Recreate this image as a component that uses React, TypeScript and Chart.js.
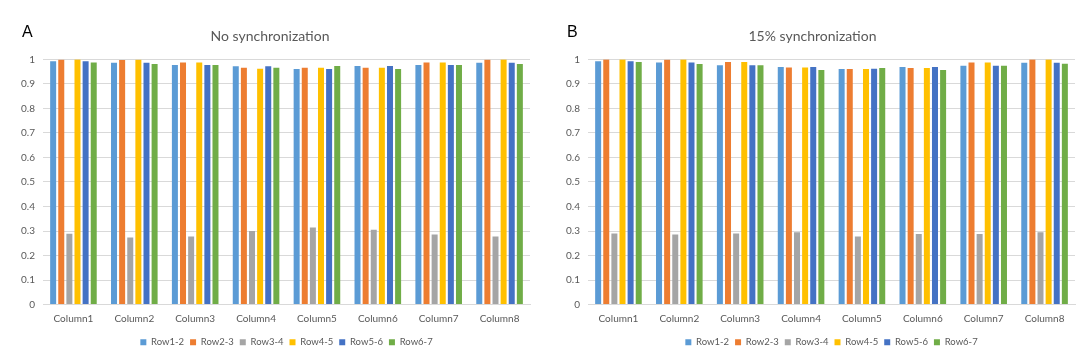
import React, { useEffect, useRef } from 'react';
import { Chart, registerables } from 'chart.js';

Chart.register(...registerables);

const categories = ['Column1', 'Column2', 'Column3', 'Column4', 'Column5', 'Column6', 'Column7', 'Column8'];
const seriesNames = ['Row1-2', 'Row2-3', 'Row3-4', 'Row4-5', 'Row5-6', 'Row6-7'];
const seriesColors = ['#5B9BD5', '#ED7D31', '#A5A5A5', '#FFC000', '#4472C4', '#70AD47'];
const yTicks = [0, 0.1, 0.2, 0.3, 0.4, 0.5, 0.6, 0.7, 0.8, 0.9, 1];
const yTickLabels = ['0', '0.1', '0.2', '0.3', '0.4', '0.5', '0.6', '0.7', '0.8', '0.9', '1'];

// Panel A: No synchronization
const noSyncRow12 = [0.992, 0.986, 0.977, 0.972, 0.96, 0.973, 0.977, 0.986];
const noSyncRow23 = [0.998, 0.997, 0.987, 0.966, 0.966, 0.966, 0.987, 0.998];
const noSyncRow34 = [0.289, 0.274, 0.278, 0.3, 0.314, 0.305, 0.286, 0.278];
const noSyncRow45 = [0.999, 0.998, 0.987, 0.961, 0.966, 0.966, 0.987, 0.999];
const noSyncRow56 = [0.992, 0.986, 0.977, 0.972, 0.96, 0.973, 0.977, 0.986];
const noSyncRow67 = [0.987, 0.981, 0.977, 0.966, 0.973, 0.96, 0.977, 0.981];

// Panel B: 15% synchronization
const syncRow12 = [0.992, 0.987, 0.976, 0.969, 0.96, 0.969, 0.974, 0.986];
const syncRow23 = [0.999, 0.998, 0.989, 0.967, 0.96, 0.965, 0.987, 0.999];
const syncRow34 = [0.29, 0.286, 0.29, 0.295, 0.278, 0.288, 0.288, 0.295];
const syncRow45 = [0.999, 0.999, 0.989, 0.967, 0.96, 0.965, 0.987, 0.999];
const syncRow56 = [0.992, 0.987, 0.976, 0.969, 0.961, 0.969, 0.974, 0.986];
const syncRow67 = [0.989, 0.981, 0.976, 0.956, 0.965, 0.956, 0.974, 0.982];

const noSyncSeries = [noSyncRow12, noSyncRow23, noSyncRow34, noSyncRow45, noSyncRow56, noSyncRow67];
const syncSeries = [syncRow12, syncRow23, syncRow34, syncRow45, syncRow56, syncRow67];

const FONT = 'Lato';
const TEXT = '#595959';
const GRID = '#D9D9D9';

type PanelProps = {
  letter: string;
  title: string;
  series: number[][];
  left: number;
  width: number;
  rightPad: number;
};

function Panel({ letter, title, series, left, width, rightPad }: PanelProps) {
  const ref = useRef<HTMLCanvasElement | null>(null);
  useEffect(() => {
    if (!ref.current) return;
    const letterPlugin = {
      id: 'panelLetter',
      afterDraw(chart: any) {
        const ctx = chart.ctx;
        ctx.save();
        ctx.font = '16px "Liberation Sans", Arial, sans-serif';
        ctx.fillStyle = '#000000';
        ctx.textBaseline = 'alphabetic';
        ctx.textAlign = 'left';
        ctx.fillText(letter, 22, 36.5);
        ctx.restore();
      },
    };
    const chart = new Chart(ref.current, {
      type: 'bar',
      data: {
        labels: categories,
        datasets: seriesNames.map((name, i) => ({
          label: name,
          data: series[i],
          backgroundColor: seriesColors[i],
          borderWidth: 0,
          categoryPercentage: 0.8,
          barPercentage: 0.74,
        })),
      },
      options: {
        animation: false,
        responsive: false,
        maintainAspectRatio: false,
        layout: { padding: { left: 0, right: 0, top: 0, bottom: -2 } },
        plugins: {
          title: {
            display: true,
            text: title,
            color: TEXT,
            font: { family: FONT, size: 14, weight: 'normal' },
            padding: { top: 28.3, bottom: 14.2 },
          },
          legend: {
            position: 'bottom',
            fullSize: false,
            labels: {
              boxWidth: 6,
              boxHeight: 6,
              padding: 6,
              color: TEXT,
              font: { family: FONT, size: 9.5 },
            },
          },
          tooltip: { enabled: false },
        },
        scales: {
          x: {
            grid: { display: false, drawTicks: false },
            border: { display: true, color: GRID },
            ticks: { color: TEXT, font: { family: FONT, size: 10 }, padding: 8, maxRotation: 0 },
            afterFit: (scale: any) => {
              scale.height = 26.9;
            },
          },
          y: {
            min: 0,
            max: 1,
            afterBuildTicks: (scale: any) => {
              scale.ticks = yTicks.map((v) => ({ value: v }));
            },
            afterFit: (scale: any) => {
              scale.width = 43;
            },
            ticks: {
              color: TEXT,
              font: { family: FONT, size: 10 },
              padding: 8,
              callback: (_v: any, i: number) => yTickLabels[i],
            },
            grid: { color: GRID, drawTicks: false },
            border: { display: false },
          },
          yRight: {
            position: 'right',
            display: true,
            min: 0,
            max: 1,
            afterFit: (scale: any) => {
              scale.width = rightPad;
            },
            ticks: { display: false },
            grid: { display: false, drawTicks: false },
            border: { display: false },
          },
        },
      },
      plugins: [letterPlugin],
    });
    return () => chart.destroy();
  }, [letter, title, series, rightPad]);
  return (
    <canvas
      ref={ref}
      width={width}
      height={355}
      style={{ position: 'absolute', left, top: 0, width, height: 355 }}
    />
  );
}

export default function App() {
  return (
    <div style={{ position: 'fixed', left: 0, top: 0, width: 1080, height: 355, background: '#ffffff' }}>
      <Panel letter="A" title="No synchronization" series={noSyncSeries} left={0} width={540} rightPad={10} />
      <Panel letter="B" title="15% synchronization" series={syncSeries} left={545} width={535} rightPad={5} />
    </div>
  );
}
